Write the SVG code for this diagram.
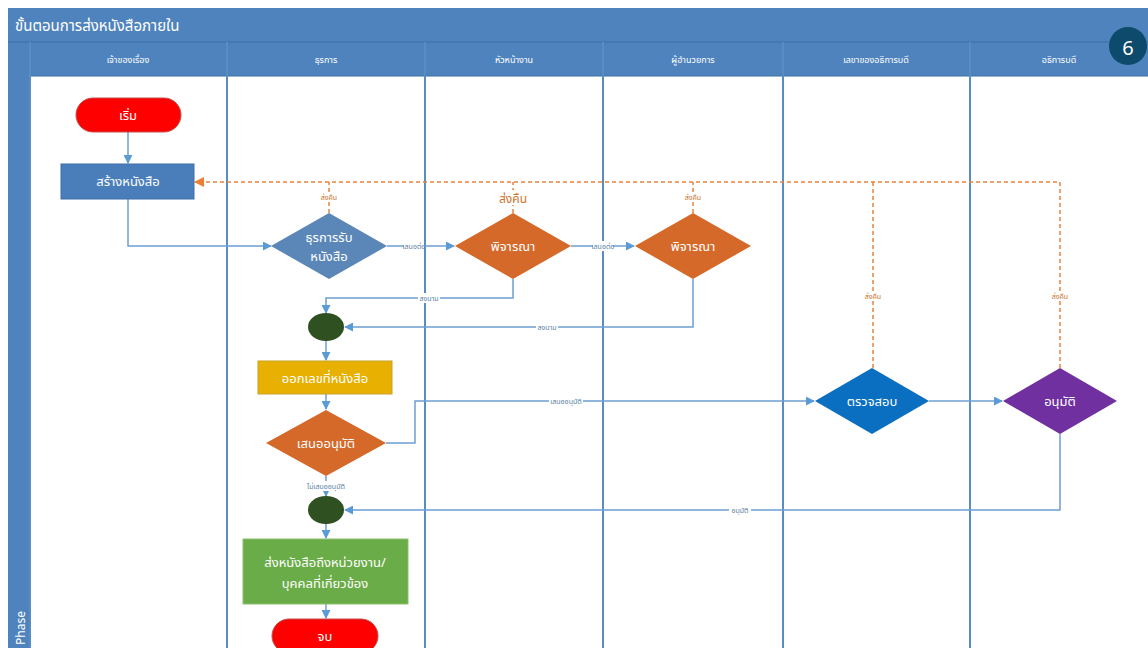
<svg xmlns="http://www.w3.org/2000/svg" width="1148" height="648" viewBox="0 0 1148 648">
<defs>
<style>
text{font-family:"Noto Sans","Noto Sans Thai","DejaVu Sans","Liberation Sans",sans-serif;}
.hdr{fill:#4f83bd;}
.hline{stroke:#3d6fa6;stroke-width:1;}
.lane{stroke:#5a8cc4;stroke-width:2;fill:none;}
.htxt{fill:#ffffff;font-size:9px;text-anchor:middle;}
.ntxt{fill:#ffffff;font-size:13px;text-anchor:middle;dominant-baseline:central;}
.con{stroke:#6e9fd4;stroke-width:1.5;fill:none;}
.ret{stroke:#e8823c;stroke-width:1.5;fill:none;stroke-dasharray:4 3;}
.lbl{fill:#5b7fa6;font-size:7px;text-anchor:middle;dominant-baseline:central;}
.olbl{fill:#c9702c;font-size:7px;text-anchor:middle;dominant-baseline:central;}
.lblbg{fill:#ffffff;}
</style>
<marker id="ab" viewBox="0 0 10 10" refX="9" refY="5" markerWidth="9" markerHeight="9" markerUnits="userSpaceOnUse" orient="auto"><path d="M0,0 L10,5 L0,10 z" fill="#5b9bd5"/></marker>
<marker id="ao" viewBox="0 0 10 10" refX="9" refY="5" markerWidth="10" markerHeight="10" markerUnits="userSpaceOnUse" orient="auto"><path d="M0,0 L10,5 L0,10 z" fill="#ed7d31"/></marker>
</defs>
<rect width="1148" height="648" fill="#ffffff"/>
<g id="frame">
<rect class="hdr" x="8" y="8" width="1140" height="34"/>
<rect class="hdr" x="8" y="42" width="1140" height="34"/>
<rect class="hdr" x="8" y="42" width="22" height="606"/>
<line class="hline" x1="8" y1="42" x2="1148" y2="42"/>
<line class="hline" x1="30" y1="76" x2="1148" y2="76"/>
<text x="15" y="31" fill="#ffffff" font-size="15">ขั้นตอนการส่งหนังสือภายใน</text>
<text x="25" y="645" fill="#ffffff" font-size="12" transform="rotate(-90 25 645)">Phase</text>
</g>
<g id="lanes">
<line class="lane" x1="30" y1="42" x2="30" y2="648"/>
<line class="lane" x1="227" y1="42" x2="227" y2="648"/>
<line class="lane" x1="425" y1="42" x2="425" y2="648"/>
<line class="lane" x1="603" y1="42" x2="603" y2="648"/>
<line class="lane" x1="783" y1="42" x2="783" y2="648"/>
<line class="lane" x1="970" y1="42" x2="970" y2="648"/>
<text class="htxt" x="128" y="63">เจ้าของเรื่อง</text>
<text class="htxt" x="326" y="63">ธุรการ</text>
<text class="htxt" x="514" y="63">หัวหน้างาน</text>
<text class="htxt" x="693" y="63">ผู้อำนวยการ</text>
<text class="htxt" x="876" y="63">เลขาของอธิการบดี</text>
<text class="htxt" x="1059" y="63">อธิการบดี</text>
</g>
<g id="badge">
<circle cx="1128" cy="46" r="19" fill="#0d4a6b"/>
<text x="1128" y="47" fill="#ffffff" font-size="20" text-anchor="middle" dominant-baseline="central">6</text>
</g>
<g id="connectors">
<path class="con" d="M128,132 L128,163" marker-end="url(#ab)"/>
<path class="con" d="M128,199 L128,246 L271,246" marker-end="url(#ab)"/>
<path class="con" d="M387,246 L454,246" marker-end="url(#ab)"/>
<path class="con" d="M571,246 L634,246" marker-end="url(#ab)"/>
<path class="con" d="M513,279 L513,298 L326,298 L326,313" marker-end="url(#ab)"/>
<path class="con" d="M693,279 L693,327 L345,327" marker-end="url(#ab)"/>
<path class="con" d="M326,341 L326,360" marker-end="url(#ab)"/>
<path class="con" d="M326,394 L326,409" marker-end="url(#ab)"/>
<path class="con" d="M386,443 L415,443 L415,401 L814,401" marker-end="url(#ab)"/>
<path class="con" d="M929,401 L1002,401" marker-end="url(#ab)"/>
<path class="con" d="M1060,434 L1060,510 L345,510" marker-end="url(#ab)"/>
<path class="con" d="M326,476 L326,496" marker-end="url(#ab)"/>
<path class="con" d="M326,523 L326,538" marker-end="url(#ab)"/>
<path class="con" d="M326,604 L326,618" marker-end="url(#ab)"/>
<path class="ret" d="M1060,368 L1060,182 L195,182" marker-end="url(#ao)"/>
<path class="ret" d="M873,368 L873,182"/>
<path class="ret" d="M329,213 L329,182"/>
<path class="ret" d="M513,213 L513,182"/>
<path class="ret" d="M693,213 L693,182"/>
<rect class="lblbg" x="404" y="241" width="20" height="10"/>
<text class="lbl" x="414" y="246">เสนอต่อ</text>
<rect class="lblbg" x="593" y="241" width="20" height="10"/>
<text class="lbl" x="603" y="246">เสนอต่อ</text>
<rect class="lblbg" x="418" y="293" width="22" height="10"/>
<text class="lbl" x="429" y="298">ลงนาม</text>
<rect class="lblbg" x="536" y="322" width="22" height="10"/>
<text class="lbl" x="547" y="327">ลงนาม</text>
<rect class="lblbg" x="549" y="396" width="34" height="10"/>
<text class="lbl" x="566" y="401">เสนออนุมัติ</text>
<rect class="lblbg" x="729" y="505" width="22" height="10"/>
<text class="lbl" x="740" y="510">อนุมัติ</text>
<rect class="lblbg" x="306" y="481" width="40" height="10"/>
<text class="lbl" x="326" y="486">ไม่เสนออนุมัติ</text>
<rect class="lblbg" x="319" y="192" width="20" height="10"/>
<text class="olbl" x="329" y="197">ส่งคืน</text>
<rect class="lblbg" x="683" y="192" width="20" height="10"/>
<text class="olbl" x="693" y="197">ส่งคืน</text>
<rect class="lblbg" x="863" y="291" width="20" height="10"/>
<text class="olbl" x="873" y="296">ส่งคืน</text>
<rect class="lblbg" x="1050" y="291" width="20" height="10"/>
<text class="olbl" x="1060" y="296">ส่งคืน</text>
<rect class="lblbg" x="496" y="190" width="34" height="15"/>
<text x="513" y="198" fill="#d0702a" font-size="12" text-anchor="middle" dominant-baseline="central">ส่งคืน</text>
</g>
<g id="start">
<rect x="76" y="98" width="105" height="34" rx="17" fill="#ff0000" stroke="#c0504d" stroke-width="1"/>
<text class="ntxt" x="128" y="115">เริ่ม</text>
</g>
<g id="create">
<rect x="61" y="164" width="133" height="35" fill="#4a7ebb" stroke="#3f6fa8" stroke-width="1"/>
<text class="ntxt" x="128" y="181">สร้างหนังสือ</text>
</g>
<g id="receive">
<polygon points="329,213 387,246 329,279 271,246" fill="#5b87b8"/>
<text class="ntxt" x="329" y="237">ธุรการรับ</text>
<text class="ntxt" x="329" y="256">หนังสือ</text>
</g>
<g id="consider1">
<polygon points="513,213 571,246 513,279 455,246" fill="#d5692a"/>
<text class="ntxt" x="513" y="246">พิจารณา</text>
</g>
<g id="consider2">
<polygon points="693,213 751,246 693,279 635,246" fill="#d5692a"/>
<text class="ntxt" x="693" y="246">พิจารณา</text>
</g>
<g id="merge1">
<ellipse cx="326" cy="327" rx="18" ry="14" fill="#2f5020"/>
</g>
<g id="number">
<rect x="258" y="361" width="134" height="33" fill="#e8b000" stroke="#c9a227" stroke-width="1"/>
<text class="ntxt" x="325" y="378">ออกเลขที่หนังสือ</text>
</g>
<g id="propose">
<polygon points="326,410 386,443 326,476 266,443" fill="#d5692a"/>
<text class="ntxt" x="326" y="443">เสนออนุมัติ</text>
</g>
<g id="check">
<polygon points="872,368 929,401 872,434 815,401" fill="#0a6fc0"/>
<text class="ntxt" x="872" y="401">ตรวจสอบ</text>
</g>
<g id="approve">
<polygon points="1060,368 1117,401 1060,434 1003,401" fill="#7030a0"/>
<text class="ntxt" x="1060" y="401">อนุมัติ</text>
</g>
<g id="merge2">
<ellipse cx="326" cy="510" rx="18" ry="14" fill="#2f5020"/>
</g>
<g id="send">
<rect x="243" y="539" width="165" height="65" fill="#6aac47" stroke="#8cbf6e" stroke-width="1"/>
<text class="ntxt" x="325" y="562">ส่งหนังสือถึงหน่วยงาน/</text>
<text class="ntxt" x="325" y="583">บุคคลที่เกี่ยวข้อง</text>
</g>
<g id="end">
<rect x="272" y="619" width="106" height="34" rx="17" fill="#ff0000" stroke="#c0504d" stroke-width="1"/>
<text class="ntxt" x="325" y="636">จบ</text>
</g>
</svg>
